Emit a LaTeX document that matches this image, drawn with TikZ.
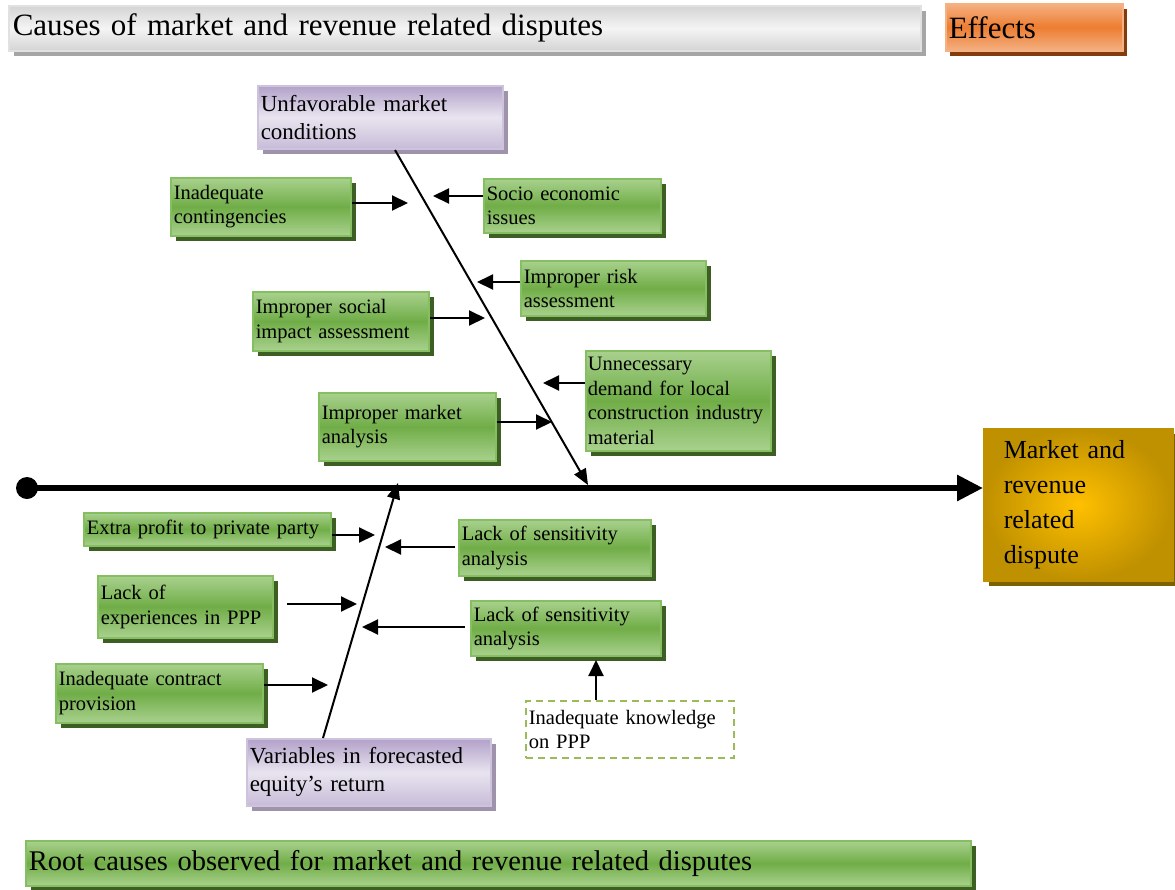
\documentclass[tikz,border=0pt]{standalone}
\usepackage{fontspec}
\setmainfont{Liberation Serif}
\usetikzlibrary{arrows.meta,shadows}

\definecolor{grnlt}{HTML}{A9D18E}
\definecolor{grnmid}{HTML}{70AD47}
\definecolor{grnline}{HTML}{86BF62}
\definecolor{grnshd}{HTML}{3D5F24}
\definecolor{purlt}{HTML}{E8E4EF}
\definecolor{purdk}{HTML}{B2A1C9}
\definecolor{purline}{HTML}{CDC3DD}
\definecolor{purshd}{HTML}{9E93AA}
\definecolor{grylt}{HTML}{F4F4F4}
\definecolor{grydk}{HTML}{D4D4D4}
\definecolor{gryshd}{HTML}{A6A6A6}
\definecolor{orglt}{HTML}{F4B183}
\definecolor{orgmid}{HTML}{ED7D31}
\definecolor{orgshd}{HTML}{843C0C}
\definecolor{goldin}{HTML}{FFC000}
\definecolor{goldout}{HTML}{BF9000}
\definecolor{goldshd}{HTML}{7F6000}
\definecolor{dashgrn}{HTML}{9BBB59}

\tikzset{
  box/.style={anchor=north west, inner sep=3pt, align=left, line width=1.5pt},
  cause/.style={box, draw=grnline, top color=grnlt, bottom color=grnlt, middle color=grnmid,
    font=\fontsize{20.5}{24.5}\selectfont,
    drop shadow={shadow xshift=5pt, shadow yshift=-5pt, fill=grnshd, opacity=1}},
  mainc/.style={box, draw=purline, top color=purdk, bottom color=purdk!60!purlt, middle color=purlt,
    font=\fontsize{23}{28}\selectfont,
    drop shadow={shadow xshift=5pt, shadow yshift=-5pt, fill=purshd, opacity=1}},
  hdr/.style={box, inner xsep=4pt, draw=grydk!70!white, top color=grydk, bottom color=grydk, middle color=grylt,
    font=\fontsize{31}{36}\selectfont,
    drop shadow={shadow xshift=5pt, shadow yshift=-5pt, fill=gryshd, opacity=1}},
  effhdr/.style={box, draw=orglt, top color=orglt, bottom color=orglt, middle color=orgmid,
    font=\fontsize{31}{36}\selectfont,
    drop shadow={shadow xshift=4pt, shadow yshift=-5pt, fill=orgshd, opacity=1}},
  effbox/.style={box, inner xsep=20pt, draw=goldout, inner color=goldin, outer color=goldout,
    font=\fontsize{26}{35}\selectfont,
    drop shadow={shadow xshift=5pt, shadow yshift=-5pt, fill=goldshd, opacity=1}},
  dashbox/.style={box, draw=dashgrn, line width=1.8pt, dash pattern=on 7pt off 5pt, fill=white,
    font=\fontsize{20.5}{24.5}\selectfont},
  arr/.style={-{Triangle[length=16pt,width=15pt]}, line width=2pt},
  bone/.style={-{Triangle[length=16pt,width=13pt]}, line width=2pt},
  spine/.style={-{Triangle[length=26pt,width=25pt]}, line width=6pt}
}

\begin{document}
\begin{tikzpicture}[x=1pt, y=-1pt]

	\useasboundingbox (0,0) rectangle (1175,889);

	% headings
	\node[hdr, text width=904pt, minimum height=45pt] (title) at (8,5)
		{Causes of market and revenue related disputes};
	\node[effhdr, text width=171pt, minimum height=47pt] (effhead) at (945,3) {Effects};
	\node[cause, font=\fontsize{28.5}{34}\selectfont, text width=939pt, minimum height=45pt] (root) at (25,840)
		{Root causes observed for market and revenue related disputes};

	% main causes and effect
	\node[mainc, text width=239pt, minimum height=63pt] (ucond) at (257,85)
		{Unfavorable market\\conditions};
	\node[mainc, text width=238pt, minimum height=67pt] (equity) at (246,738)
		{Variables in forecasted\\equity’s return};
	\node[effbox, text width=149pt, minimum height=152pt] (dispute) at (983,428)
		{Market and\\revenue\\related\\dispute};

	% upper causes
	\node[cause, text width=174pt, minimum height=58pt] (contg) at (170,177) {Inadequate\\contingencies};
	\node[cause, text width=171pt, minimum height=54pt] (socio) at (483,178) {Socio economic\\issues};
	\node[cause, text width=179pt, minimum height=55pt] (risk) at (520,260) {Improper risk\\assessment};
	\node[cause, text width=170pt, minimum height=59pt] (social) at (252,291) {Improper social\\impact assessment};
	\node[cause, inner xsep=2pt, text width=181pt, minimum height=100pt] (demand) at (585,350)
		{Unnecessary\\demand for local\\construction industry\\material};
	\node[cause, text width=171pt, minimum height=68pt] (mkt) at (318,392) {Improper market\\analysis};

	% lower causes
	\node[cause, text width=241pt, minimum height=33pt] (extra) at (83,512) {Extra profit to private party};
	\node[cause, text width=186pt, minimum height=56pt] (sens1) at (458,519) {Lack of sensitivity\\analysis};
	\node[cause, text width=169pt, minimum height=62pt] (exper) at (97,575) {Lack of\\experiences in PPP};
	\node[cause, text width=184pt, minimum height=55pt] (sens2) at (470,600) {Lack of sensitivity\\analysis};
	\node[cause, text width=201pt, minimum height=59pt] (contr) at (55,663) {Inadequate contract\\provision};
	\node[dashbox, text width=202pt, minimum height=57pt] (know) at (525,700) {Inadequate knowledge\\on PPP};

	% spine and bones
	\node[circle, fill=black, minimum size=22pt, inner sep=0pt] (head) at (27,488) {};
	\draw[spine] (head.center) -- (head.center -| dispute.west);

	\coordinate (ubtop) at (395,150);
	\coordinate (ubtip) at (588,485);
	\coordinate (lbbot) at (323,738);
	\coordinate (lbtip) at (398,483);
	\draw[bone] (ubtop) -- (ubtip);
	\draw[bone] (lbbot) -- (lbtip);

	% arrow tips near the bones
	\coordinate (t1) at (408,203);
	\coordinate (t2) at (433,196);
	\coordinate (t3) at (477,282);
	\coordinate (t4) at (485,318);
	\coordinate (t5) at (543,383);
	\coordinate (t6) at (552,422);
	\coordinate (t7) at (375,535);
	\coordinate (t8) at (385,547);
	\coordinate (t9) at (357,604);
	\coordinate (t10) at (362,627);
	\coordinate (t11) at (328,685);
	\coordinate (t12) at (596,660);

	\draw[arr] (contg.east |- t1) -- (t1);
	\draw[arr] (socio.west |- t2) -- (t2);
	\draw[arr] (risk.west |- t3) -- (t3);
	\draw[arr] (social.east |- t4) -- (t4);
	\draw[arr] (demand.west |- t5) -- (t5);
	\draw[arr] (mkt.east |- t6) -- (t6);
	\draw[arr] (extra.east |- t7) -- (t7);
	\draw[arr] ([xshift=-3pt]sens1.west |- t8) -- (t8);
	\draw[arr] ([xshift=13pt]exper.east |- t9) -- (t9);
	\draw[arr] ([xshift=-5pt]sens2.west |- t10) -- (t10);
	\draw[arr] (contr.east |- t11) -- (t11);
	\draw[arr] (know.north -| t12) -- (t12);

\end{tikzpicture}
\end{document}
